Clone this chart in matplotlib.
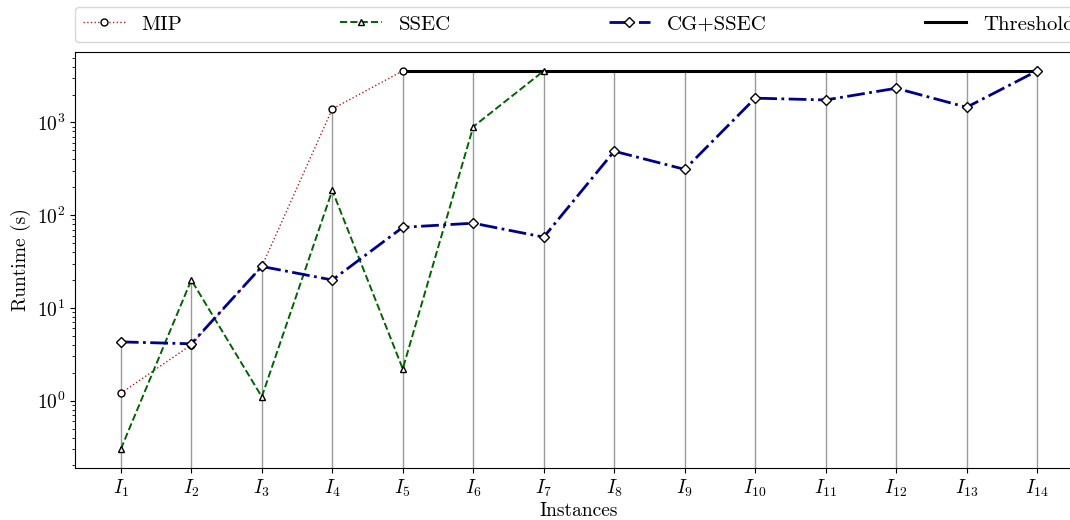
import numpy as np
import matplotlib
matplotlib.use('Agg')
import matplotlib.pyplot as plt

plt.rcParams['font.family'] = 'serif'
plt.rcParams['font.serif'] = ['cmr10', 'DejaVu Serif']
plt.rcParams['mathtext.fontset'] = 'cm'
plt.rcParams['axes.formatter.use_mathtext'] = True
plt.rcParams['font.size'] = 14

# runtimes in seconds (None = timed out / not reported)
instances = [f'$I_{{{i}}}$' for i in range(1, 15)]
mip = [1.2, 4.0, 28, 1400, 3600]
ssec = [0.3, 20, 1.1, 185, 2.2, 900, 3600]
cg_ssec = [4.3, 4.1, 28, 20, 74, 82, 58, 490, 312, 1830, 1750, 2340, 1460, 3600]
threshold = 3600
threshold_from = 5  # instance index where threshold line starts (1-based)

x = np.arange(1, len(instances) + 1)

fig = plt.figure(figsize=(10.7, 5.2), dpi=100)
ax = fig.add_axes([0.0701, 0.1, 0.942, 0.8])

ax.plot(x[:len(mip)], mip, ':', color='#b22222', lw=1, marker='o',
        mfc='white', mec='black', ms=5, label='MIP', zorder=3)
ax.plot(x[:len(ssec)], ssec, '--', color='darkgreen', lw=1.4, marker='^',
        mfc='white', mec='black', ms=5, label='SSEC', zorder=3)
ax.plot(x, cg_ssec, '-.', color='darkblue', lw=2, marker='D',
        mfc='white', mec='black', ms=5, label='CG+SSEC', zorder=4)
ax.plot([threshold_from, x[-1]], [threshold, threshold], '-', color='black',
        lw=2.2, label='Threshold', zorder=2)

ax.set_yscale('log')
ylo, yhi = ax.get_ylim()

# vertical guides from the bottom up to the highest point of each instance
tops = []
for i in range(len(x)):
    vals = [s[i] for s in (mip, ssec, cg_ssec) if i < len(s)]
    if x[i] >= threshold_from:
        vals.append(threshold)
    tops.append(max(vals))
ax.vlines(x, ylo, tops, color='gray', lw=1, alpha=0.8, zorder=1)
ax.set_ylim(ylo, yhi)

ax.set_xticks(x)
ax.set_xticklabels(instances)
ax.set_xlabel('Instances', labelpad=2)
ax.set_ylabel('Runtime (s)')

ax.legend(loc='lower left', bbox_to_anchor=(0, 1.024, 1, 0.08), mode='expand',
          ncol=4, borderaxespad=0, fontsize=15)

plt.savefig('out.png', dpi=100)
plt.close()
